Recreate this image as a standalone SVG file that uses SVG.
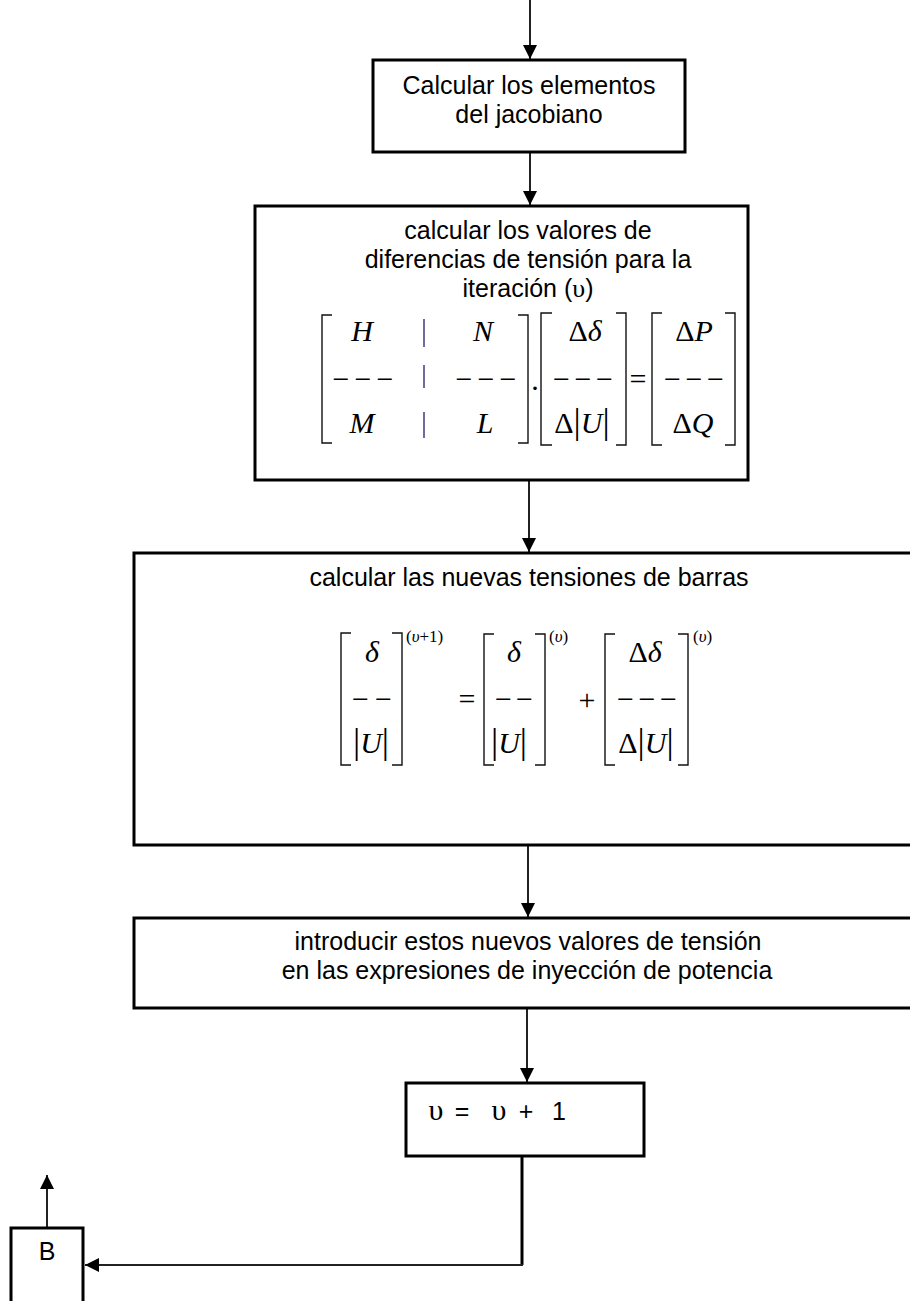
<svg xmlns="http://www.w3.org/2000/svg" width="910" height="1301" viewBox="0 0 910 1301">
<style>
.box{fill:#fff;stroke:#000;stroke-width:3}
.conn{stroke:#222;stroke-width:2;fill:none}
.thick{stroke:#000;stroke-width:3;fill:none}
.t{font-family:"Liberation Sans",Arial,sans-serif;font-size:25px;fill:#000;text-anchor:middle}
.m{font-family:"Liberation Serif","Times New Roman",serif;font-size:30px;fill:#000;text-anchor:middle}
.i{font-style:italic}
.sup{font-family:"Liberation Serif","Times New Roman",serif;font-size:17px;fill:#000;text-anchor:start}
.br{stroke:#111;stroke-width:1.4;fill:none}
.sep{stroke:#3a2a7a;stroke-width:1.4;fill:none}
</style>
<defs>
<marker id="ah" viewBox="0 0 14 14" refX="14" refY="7" markerWidth="14" markerHeight="14" markerUnits="userSpaceOnUse" orient="auto">
<path d="M0,0 L14,7 L0,14 z" fill="#000"/>
</marker>
</defs>

<g id="connectors">
<path class="conn" d="M530,0 V59" marker-end="url(#ah)"/>
<path class="conn" d="M530,153 V205" marker-end="url(#ah)"/>
<path class="conn" d="M529,481 V552" marker-end="url(#ah)"/>
<path class="conn" d="M528,846 V917" marker-end="url(#ah)"/>
<path class="conn" d="M527,1009 V1082" marker-end="url(#ah)"/>
<path class="thick" d="M522,1156 V1265"/>
<path class="conn" d="M523,1265 H85" marker-end="url(#ah)"/>
<path class="conn" d="M47,1227 V1175" marker-end="url(#ah)"/>
</g>

<g id="node-jacobiano">
<rect class="box" x="373" y="60" width="312" height="92"/>
<text class="t" x="529" y="94">Calcular los elementos</text>
<text class="t" x="529" y="123">del jacobiano</text>
</g>

<g id="node-diferencias">
<rect class="box" x="255" y="206" width="493" height="274"/>
<text class="t" x="528" y="239">calcular los valores de</text>
<text class="t" x="528" y="268">diferencias de tensión para la</text>
<text class="t" x="528" y="297">iteración (<tspan font-family="Liberation Serif, serif" font-size="26">υ</tspan>)</text>
<!-- matrix 1 -->
<path class="br" d="M332,315 H322 V443 H332"/>
<path class="br" d="M518,315 H528 V443 H518"/>
<text class="m i" x="362" y="341">H</text>
<text class="m" x="363" y="389" textLength="61" lengthAdjust="spacing">−−−</text>
<text class="m i" x="362" y="433">M</text>
<path class="sep" d="M424,319 V347 M424,365 V388 M424,412 V438"/>
<text class="m i" x="483" y="341">N</text>
<text class="m" x="486" y="389" textLength="61" lengthAdjust="spacing">−−−</text>
<text class="m i" x="485" y="433">L</text>
<text class="m" x="535" y="390">.</text>
<!-- matrix 2 -->
<path class="br" d="M552,313 H541 V445 H552"/>
<path class="br" d="M616,313 H626 V445 H616"/>
<text class="m" x="585" y="341">Δ<tspan class="i">δ</tspan></text>
<text class="m" x="583" y="389" textLength="60" lengthAdjust="spacing">−−−</text>
<text class="m" x="582" y="433">Δ<tspan font-size="36">|</tspan><tspan class="i">U</tspan><tspan font-size="36">|</tspan></text>
<text class="m" x="638" y="389">=</text>
<!-- matrix 3 -->
<path class="br" d="M662,313 H652 V445 H662"/>
<path class="br" d="M725,313 H735 V445 H725"/>
<text class="m" x="694" y="341">Δ<tspan class="i">P</tspan></text>
<text class="m" x="694" y="389" textLength="60" lengthAdjust="spacing">−−−</text>
<text class="m" x="693" y="433">Δ<tspan class="i">Q</tspan></text>
</g>

<g id="node-nuevas-tensiones">
<rect class="box" x="134" y="553" width="800" height="292"/>
<text class="t" x="529" y="586">calcular las nuevas tensiones de barras</text>
<!-- bracket 1 -->
<path class="br" d="M351,633 H341 V765 H351"/>
<path class="br" d="M392,633 H402 V765 H392"/>
<text class="m i" x="372" y="662">δ</text>
<text class="m" x="372" y="709" textLength="40" lengthAdjust="spacing">−−</text>
<text class="m" x="371" y="753"><tspan font-size="36">|</tspan><tspan class="i">U</tspan><tspan font-size="36">|</tspan></text>
<text class="sup" x="406" y="642">(<tspan class="i">υ</tspan>+1)</text>
<text class="m" x="467" y="709">=</text>
<!-- bracket 2 -->
<path class="br" d="M494,634 H484 V765 H494"/>
<path class="br" d="M535,634 H545 V765 H535"/>
<text class="m i" x="514" y="662">δ</text>
<text class="m" x="514" y="709" textLength="38" lengthAdjust="spacing">−−</text>
<text class="m" x="509" y="753"><tspan font-size="36">|</tspan><tspan class="i">U</tspan><tspan font-size="36">|</tspan></text>
<text class="sup" x="549" y="642">(<tspan class="i">υ</tspan>)</text>
<text class="m" x="587" y="710">+</text>
<!-- bracket 3 -->
<path class="br" d="M615,634 H605 V765 H615"/>
<path class="br" d="M678,634 H688 V765 H678"/>
<text class="m" x="645" y="662">Δ<tspan class="i">δ</tspan></text>
<text class="m" x="647" y="709" textLength="60" lengthAdjust="spacing">−−−</text>
<text class="m" x="646" y="753">Δ<tspan font-size="36">|</tspan><tspan class="i">U</tspan><tspan font-size="36">|</tspan></text>
<text class="sup" x="693" y="642">(<tspan class="i">υ</tspan>)</text>
</g>

<g id="node-introducir">
<rect class="box" x="134" y="918" width="800" height="90"/>
<text class="t" x="528" y="950">introducir estos nuevos valores de tensión</text>
<text class="t" x="527" y="979">en las expresiones de inyección de potencia</text>
</g>

<g id="node-incremento">
<rect class="box" x="406" y="1083" width="238" height="73"/>
<text class="m" x="436" y="1120" font-size="27">υ</text>
<text class="t" x="462" y="1120" font-size="24">=</text>
<text class="m" x="499" y="1120" font-size="27">υ</text>
<text class="t" x="526" y="1120" font-size="24">+</text>
<text class="t" x="559" y="1120" font-size="24">1</text>
</g>

<g id="node-B">
<rect class="box" x="11" y="1228" width="72" height="90"/>
<text class="t" x="47" y="1260" font-size="23">B</text>
</g>
</svg>
